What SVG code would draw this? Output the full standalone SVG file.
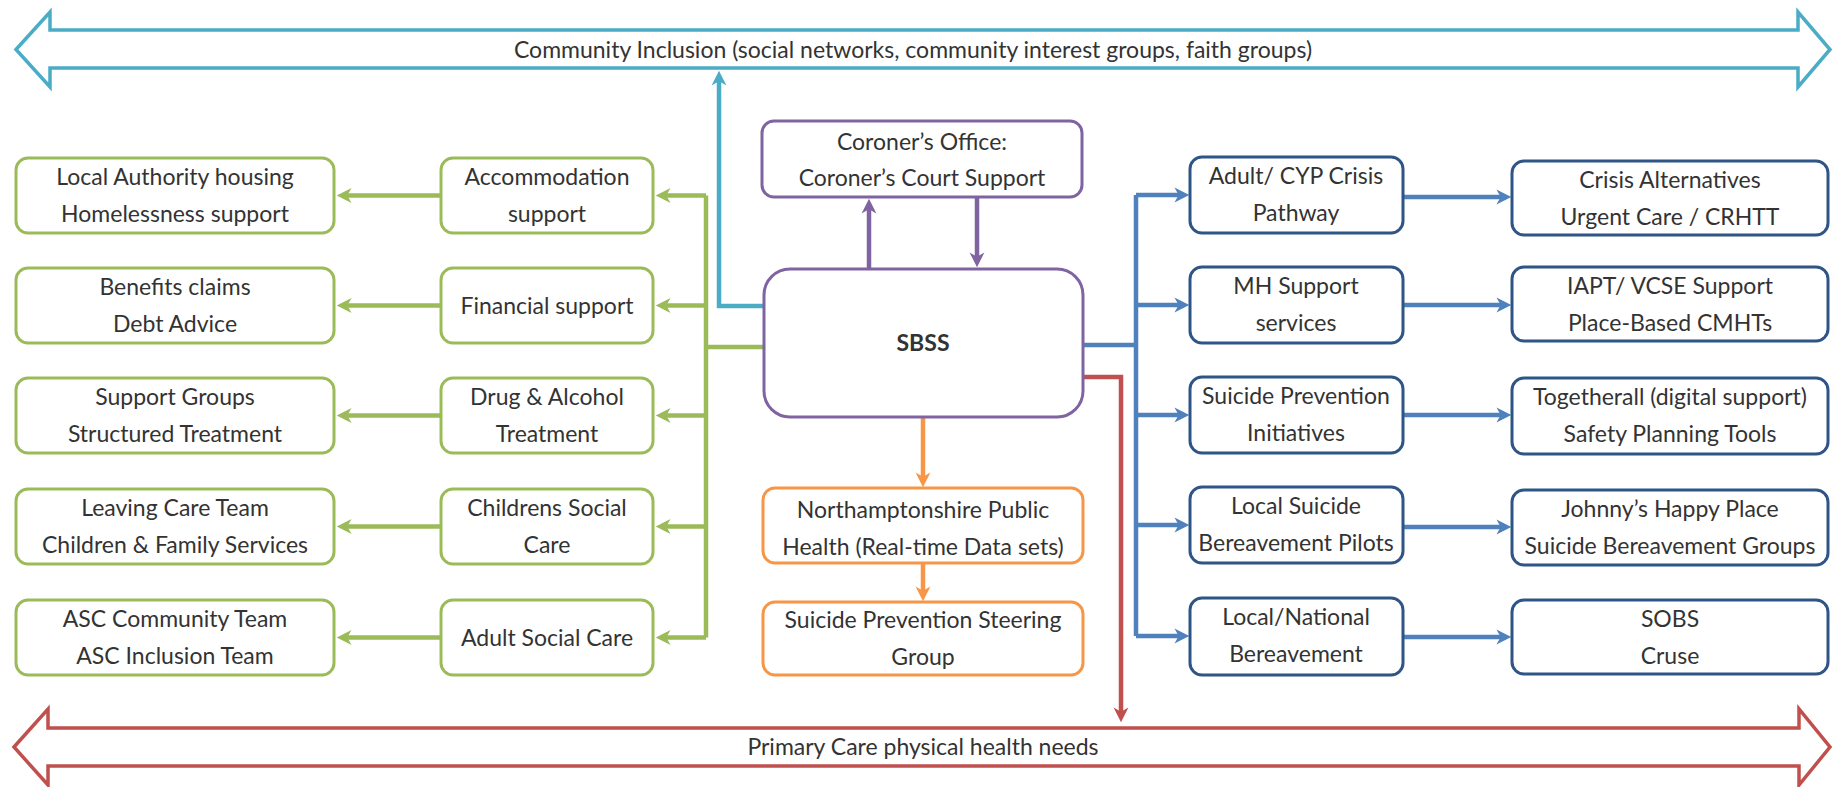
<svg xmlns="http://www.w3.org/2000/svg" width="1834" height="787" viewBox="0 0 1834 787">
<style>
text{font-family:Lato,"Open Sans","Liberation Sans",sans-serif;font-size:23px;fill:#333;text-anchor:middle}
.b{font-weight:bold}
rect{fill:#fff;stroke-width:3}
.g{stroke:#9BBB59}
.p{stroke:#8064A2}
.o{stroke:#F79646}
.nb{stroke:#2F5587}
.c{fill:none;stroke-width:4.5;stroke-linejoin:miter}
.cg{stroke:#9BBB59;marker-end:url(#mg)}
.cb{stroke:#4F81BD;marker-end:url(#mb)}
.cp{stroke:#8064A2;marker-end:url(#mp)}
.co{stroke:#F79646;marker-end:url(#mo)}
.cr{stroke:#C0504D;marker-end:url(#mr)}
.ct{stroke:#4BACC6;marker-end:url(#mt)}
.blk{fill:#fff;stroke-width:3.5;stroke-linejoin:miter}
</style>
<defs>
<marker id="mg" viewBox="0 0 16 16" refX="10" refY="8" markerWidth="17" markerHeight="17" markerUnits="userSpaceOnUse" orient="auto"><path d="M1,1 L15,8 L1,15 L5,8 z" fill="#9BBB59"/></marker>
<marker id="mb" viewBox="0 0 16 16" refX="10" refY="8" markerWidth="17" markerHeight="17" markerUnits="userSpaceOnUse" orient="auto"><path d="M1,1 L15,8 L1,15 L5,8 z" fill="#4F81BD"/></marker>
<marker id="mp" viewBox="0 0 16 16" refX="10" refY="8" markerWidth="17" markerHeight="17" markerUnits="userSpaceOnUse" orient="auto"><path d="M1,1 L15,8 L1,15 L5,8 z" fill="#8064A2"/></marker>
<marker id="mo" viewBox="0 0 16 16" refX="10" refY="8" markerWidth="17" markerHeight="17" markerUnits="userSpaceOnUse" orient="auto"><path d="M1,1 L15,8 L1,15 L5,8 z" fill="#F79646"/></marker>
<marker id="mr" viewBox="0 0 16 16" refX="10" refY="8" markerWidth="17" markerHeight="17" markerUnits="userSpaceOnUse" orient="auto"><path d="M1,1 L15,8 L1,15 L5,8 z" fill="#C0504D"/></marker>
<marker id="mt" viewBox="0 0 16 16" refX="10" refY="8" markerWidth="17" markerHeight="17" markerUnits="userSpaceOnUse" orient="auto"><path d="M1,1 L15,8 L1,15 L5,8 z" fill="#4BACC6"/></marker>
</defs>
<rect x="0" y="0" width="1834" height="787" style="fill:#fff;stroke:none"/>

<g id="community-inclusion">
<polygon class="blk" stroke="#4BACC6" points="16,49.5 50,12 50,30 1798,30 1798,12 1830,49.5 1798,87 1798,68 50,68 50,87"/>
<text x="913" y="58">Community Inclusion (social networks, community interest groups, faith groups)</text>
</g>
<g id="primary-care">
<polygon class="blk" stroke="#C0504D" points="14,747 48,709 48,728 1799,728 1799,709 1830,747 1799,785 1799,766 48,766 48,785"/>
<text x="923" y="755">Primary Care physical health needs</text>
</g>

<g id="connectors">
<path class="c ct" d="M764,306 H719 V76"/>
<path class="c cp" d="M869,269 V204"/>
<path class="c cp" d="M977,197 V262"/>
<path class="c co" d="M923,417 V482"/>
<path class="c co" d="M923,563 V596"/>
<path class="c cr" d="M1083,377 H1121 V717"/>
<path class="c" stroke="#9BBB59" d="M764,347 H706 M706,195.5 V637.5"/>
<path class="c cg" d="M706,195.5 H661"/>
<path class="c cg" d="M706,305.5 H661"/>
<path class="c cg" d="M706,415.5 H661"/>
<path class="c cg" d="M706,526.5 H661"/>
<path class="c cg" d="M706,637.5 H661"/>
<path class="c cg" d="M441,195.5 H342"/>
<path class="c cg" d="M441,305.5 H342"/>
<path class="c cg" d="M441,415.5 H342"/>
<path class="c cg" d="M441,526.5 H342"/>
<path class="c cg" d="M441,637.5 H342"/>
<path class="c" stroke="#4F81BD" d="M1083,345 H1136 M1136,195 V636"/>
<path class="c cb" d="M1136,195 H1184"/>
<path class="c cb" d="M1136,305 H1184"/>
<path class="c cb" d="M1136,415 H1184"/>
<path class="c cb" d="M1136,525 H1184"/>
<path class="c cb" d="M1136,636 H1184"/>
<path class="c cb" d="M1403,197 H1506"/>
<path class="c cb" d="M1403,305 H1506"/>
<path class="c cb" d="M1403,415 H1506"/>
<path class="c cb" d="M1403,527 H1506"/>
<path class="c cb" d="M1403,637 H1506"/>
</g>

<g id="sbss"><rect class="p" x="764" y="269" width="319" height="148" rx="26"/><text class="b" x="923" y="351">SBSS</text></g>
<g id="coroner"><rect class="p" x="762" y="121" width="320" height="76" rx="12"/><text x="922" y="150">Coroner’s Office:</text><text x="922" y="186">Coroner’s Court Support</text></g>
<g id="public-health"><rect class="o" x="763" y="488" width="320" height="75" rx="12"/><text x="923" y="518">Northamptonshire Public</text><text x="923" y="555">Health (Real-time Data sets)</text></g>
<g id="steering"><rect class="o" x="763" y="602" width="320" height="73" rx="12"/><text x="923" y="628">Suicide Prevention Steering</text><text x="923" y="665">Group</text></g>

<g id="la-housing"><rect class="g" x="16" y="158" width="318" height="75" rx="12"/><text x="175" y="185">Local Authority housing</text><text x="175" y="222">Homelessness support</text></g>
<g id="benefits"><rect class="g" x="16" y="268" width="318" height="75" rx="12"/><text x="175" y="295">Benefits claims</text><text x="175" y="332">Debt Advice</text></g>
<g id="support-groups"><rect class="g" x="16" y="378" width="318" height="75" rx="12"/><text x="175" y="405">Support Groups</text><text x="175" y="442">Structured Treatment</text></g>
<g id="leaving-care"><rect class="g" x="16" y="489" width="318" height="75" rx="12"/><text x="175" y="516">Leaving Care Team</text><text x="175" y="553">Children &amp; Family Services</text></g>
<g id="asc-teams"><rect class="g" x="16" y="600" width="318" height="75" rx="12"/><text x="175" y="627">ASC Community Team</text><text x="175" y="664">ASC Inclusion Team</text></g>

<g id="accommodation"><rect class="g" x="441" y="158" width="212" height="75" rx="12"/><text x="547" y="185">Accommodation</text><text x="547" y="222">support</text></g>
<g id="financial"><rect class="g" x="441" y="268" width="212" height="75" rx="12"/><text x="547" y="314">Financial support</text></g>
<g id="drug-alcohol"><rect class="g" x="441" y="378" width="212" height="75" rx="12"/><text x="547" y="405">Drug &amp; Alcohol</text><text x="547" y="442">Treatment</text></g>
<g id="childrens"><rect class="g" x="441" y="489" width="212" height="75" rx="12"/><text x="547" y="516">Childrens Social</text><text x="547" y="553">Care</text></g>
<g id="adult-social"><rect class="g" x="441" y="600" width="212" height="75" rx="12"/><text x="547" y="646">Adult Social Care</text></g>

<g id="crisis-pathway"><rect class="nb" x="1190" y="157" width="213" height="76" rx="12"/><text x="1296" y="184">Adult/ CYP Crisis</text><text x="1296" y="221">Pathway</text></g>
<g id="mh-support"><rect class="nb" x="1190" y="267" width="213" height="76" rx="12"/><text x="1296" y="294">MH Support</text><text x="1296" y="331">services</text></g>
<g id="sp-initiatives"><rect class="nb" x="1190" y="377" width="213" height="76" rx="12"/><text x="1296" y="404">Suicide Prevention</text><text x="1296" y="441">Initiatives</text></g>
<g id="bereavement-pilots"><rect class="nb" x="1190" y="487" width="213" height="76" rx="12"/><text x="1296" y="514">Local Suicide</text><text x="1296" y="551">Bereavement Pilots</text></g>
<g id="national-bereavement"><rect class="nb" x="1190" y="598" width="213" height="77" rx="12"/><text x="1296" y="625">Local/National</text><text x="1296" y="662">Bereavement</text></g>

<g id="crisis-alternatives"><rect class="nb" x="1512" y="161" width="316" height="74" rx="12"/><text x="1670" y="188">Crisis Alternatives</text><text x="1670" y="225">Urgent Care / CRHTT</text></g>
<g id="iapt"><rect class="nb" x="1512" y="267" width="316" height="74" rx="12"/><text x="1670" y="294">IAPT/ VCSE Support</text><text x="1670" y="331">Place-Based CMHTs</text></g>
<g id="togetherall"><rect class="nb" x="1512" y="378" width="316" height="76" rx="12"/><text x="1670" y="405">Togetherall (digital support)</text><text x="1670" y="442">Safety Planning Tools</text></g>
<g id="johnnys"><rect class="nb" x="1512" y="490" width="316" height="75" rx="12"/><text x="1670" y="517">Johnny’s Happy Place</text><text x="1670" y="554">Suicide Bereavement Groups</text></g>
<g id="sobs"><rect class="nb" x="1512" y="600" width="316" height="74" rx="12"/><text x="1670" y="627">SOBS</text><text x="1670" y="664">Cruse</text></g>
</svg>
